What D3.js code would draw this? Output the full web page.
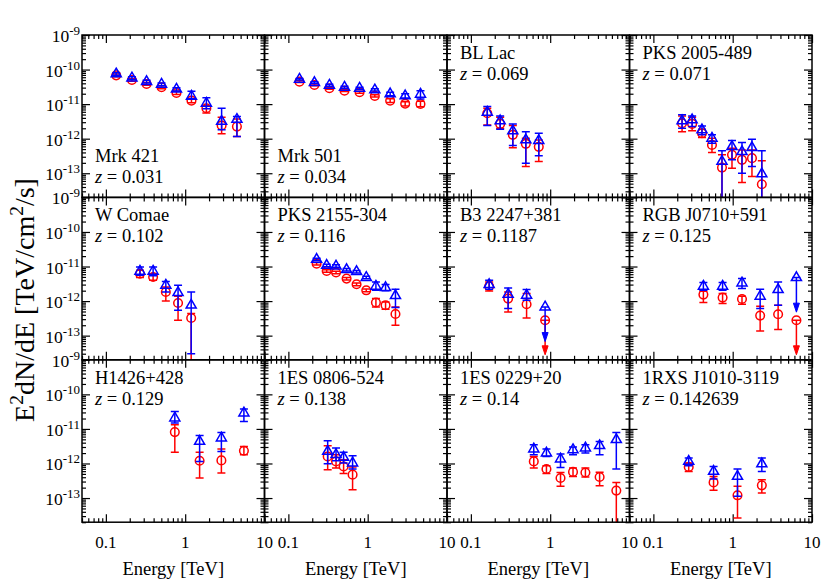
<!DOCTYPE html>
<html><head><meta charset="utf-8">
<script src="https://cdn.jsdelivr.net/npm/d3@7"></script>
<style>body{margin:0;background:#fff} svg text{font-family:"Liberation Serif","Times New Roman",Times,serif;}</style>
</head><body><svg id="c" width="830" height="581"></svg>
<script>
// ---------------- DATA ----------------
const sourceNames = ["Mrk 421","Mrk 501","BL Lac","PKS 2005-489","W Comae","PKS 2155-304","B3 2247+381","RGB J0710+591","H1426+428","1ES 0806-524","1ES 0229+20","1RXS J1010-3119"];
const redshifts = ["0.031","0.034","0.069","0.071","0.102","0.116","0.1187","0.125","0.129","0.138","0.14","0.142639"];
const labelAtBottom = [true,true,false,false,false,false,false,false,false,false,false,false];

const energies = [
  [0.135,0.213,0.326,0.503,0.776,1.2,1.85,2.88,4.49],
  [0.138,0.213,0.329,0.51,0.79,1.23,1.92,2.97,4.63],
  [0.161,0.234,0.338,0.493,0.718],
  [0.230,0.308,0.410,0.548,0.733,0.98,1.31,1.75,2.33],
  [0.269,0.394,0.570,0.813,1.19],
  [0.227,0.304,0.399,0.542,0.724,0.959,1.27,1.68,2.24],
  [0.170,0.295,0.504,0.863],
  [0.427,0.746,1.31,2.22,3.74,6.36],
  [0.74,1.52,2.86,5.5],
  [0.313,0.399,0.497,0.645],
  [0.621,0.897,1.35,1.94,2.78,4.2,6.82],
  [0.279,0.574,1.15,2.33]
];
// red circles
const redFlux = [
  [6.8e-11,5.0e-11,3.84e-11,3.08e-11,2.1e-11,1.26e-11,7.6e-12,2.4e-12,2.24e-12],
  [4.47e-11,3.59e-11,2.88e-11,2.45e-11,2.21e-11,1.73e-11,1.26e-11,1.03e-11,1.01e-11],
  [5.46e-12,2.68e-12,1.29e-12,7.1e-13,5.8e-13],
  [2.8e-12,2.68e-12,1.44e-12,6.6e-13,1.46e-13,3.4e-13,2.44e-13,2.73e-13,4.8e-14],
  [6.2e-12,4.98e-12,1.83e-12,8.8e-13,3.25e-13],
  [1.21e-11,7.4e-12,6.7e-12,4.47e-12,3.06e-12,2.05e-12,9.1e-13,7.6e-13,4.24e-13],
  [2.68e-12,1.18e-12,8.1e-13,2.79e-13],
  [1.54e-12,1.26e-12,1.15e-12,3.8e-13,4.15e-13,2.79e-13],
  [8.1e-12,1.2e-12,1.23e-12,2.34e-12],
  [1.6e-12,1.15e-12,8.2e-13,4.75e-13],
  [1.15e-12,6.9e-13,3.8e-13,5.7e-13,5.5e-13,4.07e-13,1.64e-13],
  [7.9e-13,2.84e-13,1.2e-13,2.33e-13]
];
const redLo = [
  [6.2e-11,4.6e-11,3.5e-11,2.8e-11,1.9e-11,1.1e-11,5.5e-12,1.38e-12,1.15e-12],
  [4.2e-11,3.38e-11,2.7e-11,2.3e-11,2.07e-11,1.6e-11,1.12e-11,8.8e-12,8.4e-12],
  [2.5e-12,2.0e-12,5.5e-13,1.56e-13,2.2e-13],
  [1.6e-12,1.7e-12,1.08e-12,4.0e-13,1e-14,1.4e-13,5.4e-14,8e-14,1e-14],
  [4.8e-12,4.0e-12,1.0e-12,2.8e-13,1e-14],
  [1.11e-11,6.8e-12,6.15e-12,4.1e-12,2.8e-12,1.87e-12,6.7e-13,5.8e-13,2.0e-13],
  [1.96e-12,4.8e-13,3.25e-13,null],
  [9.1e-13,8.5e-13,8.1e-13,1.37e-13,1.5e-13,null],
  [2.1e-12,3.8e-13,5.3e-13,1.8e-12],
  [6.6e-13,7.4e-13,5.1e-13,1.75e-13],
  [7.4e-13,5.1e-13,2.2e-13,4.2e-13,4.07e-13,2.27e-13,1e-14],
  [5.9e-13,1.67e-13,2.66e-14,1.4e-13]
];
const redHi = [
  [7.4e-11,5.4e-11,4.2e-11,3.4e-11,2.35e-11,1.45e-11,8.9e-12,4.2e-12,3.7e-12],
  [4.75e-11,3.8e-11,3.06e-11,2.6e-11,2.35e-11,1.86e-11,1.42e-11,1.18e-11,1.22e-11],
  [7.6e-12,4.2e-12,2.4e-12,1.03e-12,9.2e-13],
  [4.56e-12,4.2e-12,1.88e-12,1.03e-12,3.4e-13,5.3e-13,4.7e-13,4.7e-13,2.3e-13],
  [7.8e-12,6.2e-12,2.56e-12,1.38e-12,4.35e-13],
  [1.31e-11,8.0e-12,7.25e-12,4.85e-12,3.32e-12,2.23e-12,1.18e-12,9.4e-13,6.7e-13],
  [3.56e-12,1.83e-12,1.65e-12,null],
  [1.92e-12,1.65e-12,1.38e-12,7.1e-13,7.6e-13,null],
  [1.32e-11,2.1e-12,2.62e-12,3.12e-12],
  [3.27e-12,1.8e-12,1.29e-12,7.9e-13],
  [1.6e-12,8.6e-13,5.5e-13,7.4e-13,7.4e-13,5.6e-13,2.84e-13],
  [1.03e-12,4.2e-13,2.2e-13,3.4e-13]
];
// blue triangles
const blueFlux = [
  [7.46e-11,5.7e-11,4.47e-11,3.76e-11,2.7e-11,1.69e-11,1.06e-11,3.16e-12,3.6e-12],
  [5.25e-11,4.18e-11,3.52e-11,3.08e-11,2.88e-11,2.57e-11,1.97e-11,1.73e-11,1.93e-11],
  [5.8e-12,3.27e-12,1.68e-12,9.2e-13,8.8e-13],
  [3.27e-12,3.5e-12,1.8e-12,1.03e-12,2.2e-13,5.9e-13,4.2e-13,5.5e-13,9.6e-14],
  [7.3e-12,7.3e-12,2.86e-12,1.76e-12,7.6e-13],
  [1.61e-11,1.08e-11,1.03e-11,8.1e-12,7.1e-12,4.8e-12,2.68e-12,2.45e-12,1.44e-12],
  [3.0e-12,1.57e-12,1.47e-12,6.75e-13],
  [2.68e-12,2.68e-12,3.33e-12,1.38e-12,2.15e-12,4.78e-12],
  [2.07e-11,4.35e-12,5.46e-12,2.88e-11],
  [2.24e-12,1.8e-12,1.5e-12,1.03e-12],
  [2.62e-12,2.0e-12,1.35e-12,2.5e-12,2.8e-12,3.27e-12,4.88e-12],
  [1.15e-12,5.9e-13,4.24e-13,9.7e-13]
];
const blueLo = [
  [6.9e-11,5.2e-11,4.1e-11,3.4e-11,2.4e-11,1.44e-11,7.3e-12,1.8e-12,1.15e-12],
  [4.95e-11,3.95e-11,3.3e-11,2.9e-11,2.7e-11,2.38e-11,1.75e-11,1.5e-11,1.4e-11],
  [2.4e-12,1.88e-12,6.3e-13,1.96e-13,3.2e-13],
  [2.0e-12,2.24e-12,1.29e-12,7.4e-13,1e-14,2.44e-13,1.0e-13,1.56e-13,1e-14],
  [5.6e-12,5.4e-12,1.83e-12,5.4e-13,3.0e-14],
  [1.49e-11,9.9e-12,9.5e-12,7.45e-12,6.5e-12,4.4e-12,2.05e-12,2.0e-12,6.5e-13],
  [2.19e-12,6.1e-13,1.05e-12,null],
  [2.05e-12,2.05e-12,2.3e-12,6.1e-13,7.6e-13,null],
  [1.48e-11,1.15e-12,2.24e-12,1.65e-11],
  [9.9e-13,1.2e-12,1.03e-12,6.9e-13],
  [1.8e-12,1.6e-12,7.7e-13,1.8e-12,2.0e-12,1.8e-12,6.9e-13],
  [8.6e-13,3.56e-13,1.12e-13,5.9e-13]
];
const blueHi = [
  [8.1e-11,6.2e-11,4.9e-11,4.1e-11,3.0e-11,2.36e-11,1.54e-11,7.6e-12,4.4e-12],
  [5.55e-11,4.42e-11,3.75e-11,3.27e-11,3.07e-11,2.78e-11,2.2e-11,2.0e-11,2.45e-11],
  [8.5e-12,4.56e-12,2.68e-12,1.6e-12,1.44e-12],
  [4.9e-12,4.56e-12,2.34e-12,1.29e-12,4.5e-13,8.8e-13,7.7e-13,9.7e-13,4.5e-13],
  [9.7e-12,9.7e-12,3.7e-12,2.86e-12,1.83e-12],
  [1.74e-11,1.17e-11,1.12e-11,8.8e-12,7.7e-12,5.2e-12,3.56e-12,3.0e-12,2.19e-12],
  [4.0e-12,2.4e-12,2.15e-12,null],
  [3.43e-12,3.43e-12,4.47e-12,2.19e-12,3.56e-12,null],
  [3.2e-11,6.4e-12,7.9e-12,3.76e-11],
  [4.56e-12,2.8e-12,2.1e-12,1.68e-12],
  [3.5e-12,2.62e-12,1.88e-12,3.0e-12,3.5e-12,4.35e-12,7.9e-12],
  [1.44e-12,8.2e-13,6.9e-13,1.44e-12]
];
// upper limits (point indices) per panel — arrows down one decade
const upperLimits = [[],[],[],[],[],[],[3],[5],[],[],[],[]];

const xTickValues = [0.1, 1, 10];
const xTickLabels = ["0.1", "1", "10"];
const yTickExponents = [-9, -10, -11, -12, -13];
const xTitle = "Energy [TeV]";

// ---------------- LAYOUT ----------------
const svg = d3.select("#c");
const leftM = 82, topM = 35, pw = 182.5, ph = 162.4, nCols = 4, nRows = 3;
const RED = "#ff0000", BLUE = "#0000ff";

const x = d3.scaleLog().domain([0.05, 10]).range([0, pw]);
const y = d3.scaleLog().domain([2e-14, 1e-9]).range([ph, 0]);

const xMajor = [0.1, 1, 10];
const xMinor = [];
[0.01, 0.1, 1].forEach(d => { for (let k = 2; k <= 9; k++) { const v = d * k; if (v >= 0.05 && v <= 10) xMinor.push(v); } });
const yMajor = [1e-13, 1e-12, 1e-11, 1e-10, 1e-9];
const yMinor = [];
[1e-14, 1e-13, 1e-12, 1e-11, 1e-10].forEach(d => { for (let k = 2; k <= 9; k++) { const v = d * k; if (v >= 2e-14 && v <= 1e-9) yMinor.push(v); } });

const defs = svg.append("defs");
defs.append("clipPath").attr("id", "pclip").append("rect")
  .attr("x", 0).attr("y", 0).attr("width", pw).attr("height", ph);

function styleAxis(g) {
  g.select(".domain").remove();
  g.selectAll("line").attr("stroke", "#000").attr("stroke-width", 1.2);
}

sourceNames.forEach((name, i) => {
  const col = i % nCols, row = Math.floor(i / nCols);
  const g = svg.append("g").attr("transform", `translate(${leftM + col * pw},${topM + row * ph})`);

  const mk = (axisFn, vals, size, tx, ty) => g.append("g")
    .attr("transform", `translate(${tx},${ty})`)
    .call(axisFn.tickValues(vals).tickSize(-size).tickFormat(""))
    .call(styleAxis);
  mk(d3.axisBottom(x), xMajor, 8, 0, ph);
  mk(d3.axisBottom(x), xMinor, 4, 0, ph);
  mk(d3.axisTop(x), xMajor, 8, 0, 0);
  mk(d3.axisTop(x), xMinor, 4, 0, 0);
  mk(d3.axisLeft(y), yMajor, 8, 0, 0);
  mk(d3.axisLeft(y), yMinor, 4, 0, 0);
  mk(d3.axisRight(y), yMajor, 8, pw, 0);
  mk(d3.axisRight(y), yMinor, 4, pw, 0);

  const dg = g.append("g").attr("clip-path", "url(#pclip)");
  const E = energies[i];
  const ul = upperLimits[i];
  const series = [
    { F: redFlux[i], lo: redLo[i], hi: redHi[i], color: RED, shape: "circle" },
    { F: blueFlux[i], lo: blueLo[i], hi: blueHi[i], color: BLUE, shape: "triangle" }
  ];
  series.forEach(s => {
    E.forEach((e, j) => {
      const px = x(e), py = y(s.F[j]);
      if (ul.includes(j)) {
        const yEnd = y(s.F[j] / 10);
        dg.append("line").attr("x1", px).attr("x2", px).attr("y1", py).attr("y2", yEnd - 6)
          .attr("stroke", s.color).attr("stroke-width", 1.5);
        dg.append("line").attr("x1", px - 4).attr("x2", px + 4).attr("y1", py).attr("y2", py)
          .attr("stroke", s.color).attr("stroke-width", 1.5);
        dg.append("path").attr("d", `M${px - 3},${yEnd - 9}L${px},${yEnd}L${px + 3},${yEnd - 9}Z`)
          .attr("fill", s.color).attr("stroke", s.color).attr("stroke-width", 1);
      } else {
        const y1 = y(s.lo[j]), y2 = y(s.hi[j]);
        dg.append("line").attr("x1", px).attr("x2", px).attr("y1", y1).attr("y2", y2)
          .attr("stroke", s.color).attr("stroke-width", 1.5);
        [y1, y2].forEach(yy => dg.append("line").attr("x1", px - 4).attr("x2", px + 4)
          .attr("y1", yy).attr("y2", yy).attr("stroke", s.color).attr("stroke-width", 1.5));
      }
      if (s.shape === "circle") {
        dg.append("circle").attr("cx", px).attr("cy", py).attr("r", 4.3)
          .attr("fill", "none").attr("stroke", s.color).attr("stroke-width", 1.5);
      } else {
        dg.append("path").attr("d", d3.symbol(d3.symbolTriangle, 44)())
          .attr("transform", `translate(${px},${py})`)
          .attr("fill", "none").attr("stroke", s.color).attr("stroke-width", 1.5);
      }
    });
  });

  g.append("rect").attr("x", 0).attr("y", 0).attr("width", pw).attr("height", ph)
    .attr("fill", "none").attr("stroke", "#000").attr("stroke-width", 1.5);

  const ly = labelAtBottom[i] ? 127 : 24;
  g.append("text").attr("x", 13).attr("y", ly).attr("font-size", 18.5).text(name);
  const zt = g.append("text").attr("x", 13).attr("y", ly + 21).attr("font-size", 18.5);
  zt.append("tspan").attr("font-style", "italic").text("z");
  zt.append("tspan").text(" = " + redshifts[i]);
});

for (let c = 0; c < nCols; c++) {
  const ox = leftM + c * pw;
  xTickValues.forEach((v, k) => {
    svg.append("text").attr("x", ox + x(v)).attr("y", topM + nRows * ph + 26)
      .attr("text-anchor", "middle").attr("font-size", 17)
      .text(xTickLabels[k]);
  });
  svg.append("text").attr("x", ox + pw / 2).attr("y", topM + nRows * ph + 53)
    .attr("text-anchor", "middle").attr("font-size", 18.5)
    .text(xTitle);
}
for (let r = 0; r < nRows; r++) {
  const oy = topM + r * ph;
  yTickExponents.forEach(ex => {
    const t = svg.append("text").attr("x", 80).attr("y", oy + y(Math.pow(10, ex)) + 7)
      .attr("text-anchor", "end").attr("font-size", 17.5);
    t.append("tspan").text("10");
    t.append("tspan").attr("dy", -7).attr("font-size", 13).text("-" + Math.abs(ex));
  });
}
const yt = svg.append("text").attr("transform", `translate(34,300) rotate(-90)`)
  .attr("text-anchor", "middle").attr("font-size", 28);
yt.append("tspan").text("E");
yt.append("tspan").attr("dy", -11).attr("font-size", 19.5).text("2");
yt.append("tspan").attr("dy", 11).text("dN/dE [TeV/cm");
yt.append("tspan").attr("dy", -11).attr("font-size", 19.5).text("2");
yt.append("tspan").attr("dy", 11).text("/s]");
</script>
</body></html>
